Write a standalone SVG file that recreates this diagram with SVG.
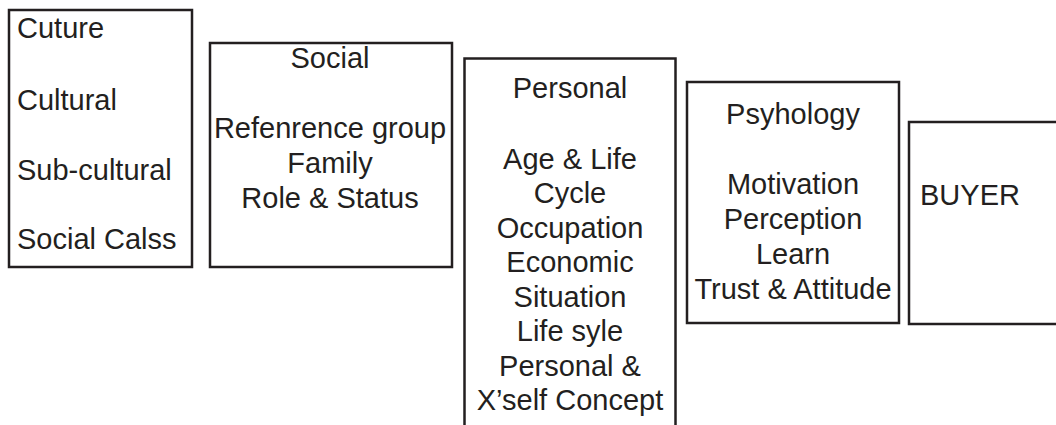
<svg xmlns="http://www.w3.org/2000/svg" width="1056" height="425" viewBox="0 0 1056 425">
  <style>
    .box { fill: #ffffff; stroke: #231f20; stroke-width: 2.5; }
    .t { font-family: "Liberation Sans", Arial, sans-serif; font-size: 29px; fill: #231f20; }
    .c { text-anchor: middle; }
  </style>
  <rect x="0" y="0" width="1056" height="425" fill="#ffffff"/>
  <g id="connectors"></g>
  <g id="culture">
    <rect class="box" x="9" y="10" width="183" height="257"/>
    <text class="t" x="17" y="38">Cuture</text>
    <text class="t" x="17" y="110">Cultural</text>
    <text class="t" x="17" y="180">Sub-cultural</text>
    <text class="t" x="17" y="249">Social Calss</text>
  </g>
  <g id="social">
    <rect class="box" x="210" y="43" width="242" height="224"/>
    <text class="t c" x="330" y="68">Social</text>
    <text class="t c" x="330" y="138">Refenrence group</text>
    <text class="t c" x="330" y="173">Family</text>
    <text class="t c" x="330" y="208">Role &amp; Status</text>
  </g>
  <g id="personal">
    <rect class="box" x="464.5" y="58.5" width="211" height="400"/>
    <text class="t c" x="570" y="97.5">Personal</text>
    <text class="t c" x="570" y="168.5">Age &amp; Life</text>
    <text class="t c" x="570" y="203">Cycle</text>
    <text class="t c" x="570" y="237.5">Occupation</text>
    <text class="t c" x="570" y="272">Economic</text>
    <text class="t c" x="570" y="306.5">Situation</text>
    <text class="t c" x="570" y="341">Life syle</text>
    <text class="t c" x="570" y="375.5">Personal &amp;</text>
    <text class="t c" x="570" y="410">X’self Concept</text>
  </g>
  <g id="psychology">
    <rect class="box" x="687" y="82" width="212" height="241"/>
    <text class="t c" x="793" y="124">Psyhology</text>
    <text class="t c" x="793" y="194">Motivation</text>
    <text class="t c" x="793" y="229">Perception</text>
    <text class="t c" x="793" y="264">Learn</text>
    <text class="t c" x="793" y="299">Trust &amp; Attitude</text>
  </g>
  <g id="buyer">
    <rect class="box" x="909" y="122" width="200" height="202"/>
    <text class="t" x="920" y="205">BUYER</text>
  </g>
</svg>
